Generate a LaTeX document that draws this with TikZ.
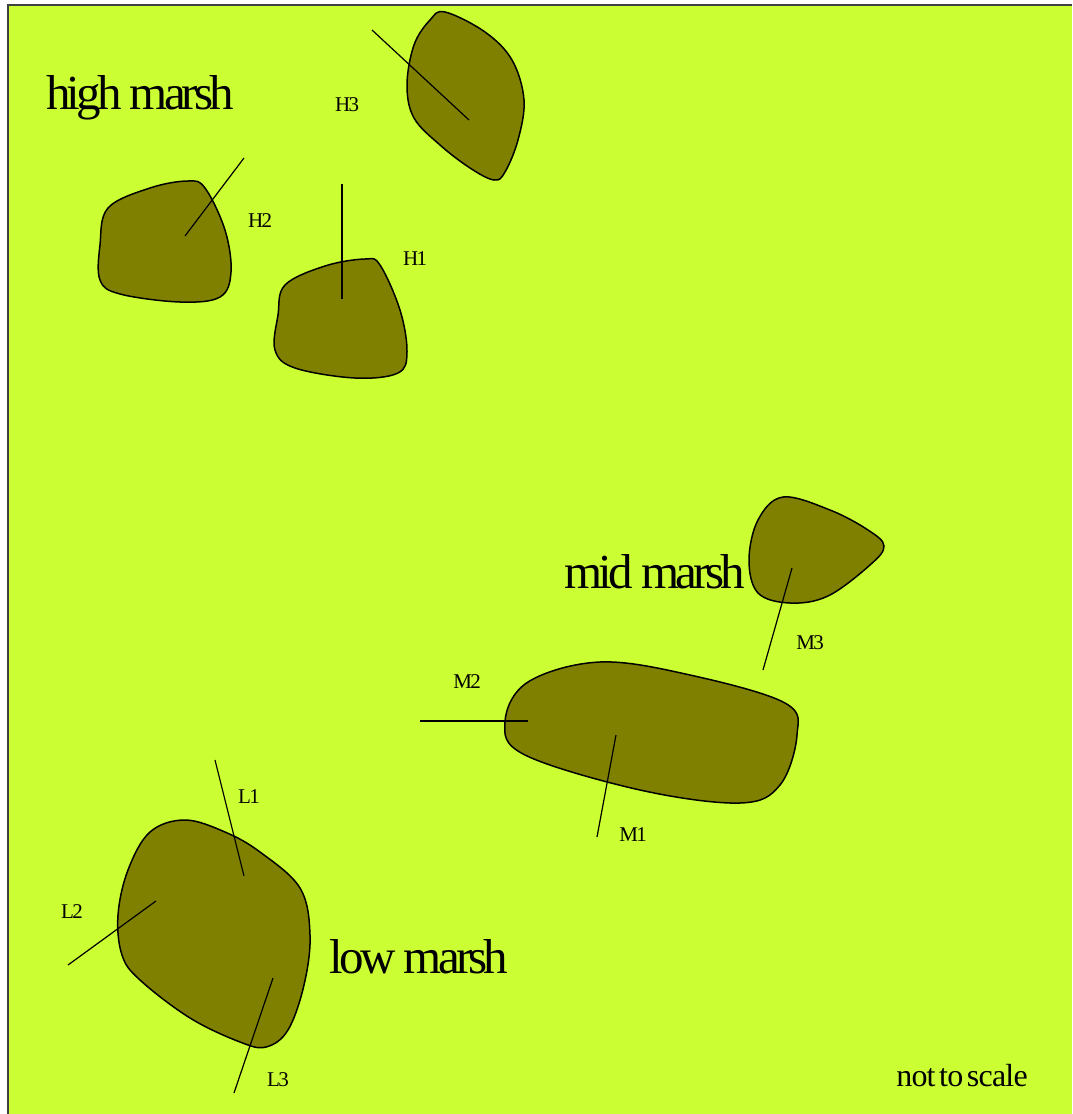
\documentclass[tikz,border=0pt]{standalone}
\usepackage{fontspec}
\setmainfont{Liberation Serif}
\newfontfamily\zonefont{Liberation Serif}[LetterSpace=-8, WordSpace=0.2]
\newfontfamily\tagfont{Liberation Serif}[LetterSpace=-8]
\newfontfamily\notefont{Liberation Serif}[LetterSpace=-2.5, WordSpace=0.5]
\usepackage{tikz}
\usetikzlibrary{positioning}

\definecolor{marshlime}{RGB}{204,255,51}
\definecolor{creekolive}{RGB}{128,128,0}

\begin{document}
\begin{tikzpicture}[
  x=0.5pt, y=-0.5pt,
  blob/.style={draw=black, fill=creekolive, line width=0.75pt},
  transect/.style={draw=black, line width=0.6pt},
  zone/.style={font=\zonefont\fontsize{24.5}{24.5}\selectfont, inner sep=0pt},
  tag/.style={font=\tagfont\fontsize{10.5}{10.5}\selectfont, inner sep=0pt},
  note/.style={font=\notefont\fontsize{16}{16}\selectfont, inner sep=0pt}
]
\useasboundingbox (0,0) rectangle (1072,1114);
\fill[marshlime] (8,5) rectangle (1072,1114);
\draw[line width=1pt, draw=black!75] (8,1114) -- (8,5) -- (1072,5);

% high marsh pools
\draw[blob] plot[smooth cycle, tension=0.6] coordinates {
  (445,12) (485,32) (512,60) (524,100) (518,140) (505,172) (494,180)
  (470,168) (440,145) (414,118) (407,85) (414,45) (430,20)};
\draw[blob] plot[smooth cycle, tension=0.6] coordinates {
  (108,208) (150,188) (188,181) (205,188) (225,230) (231,272)
  (220,297) (180,302) (120,294) (100,280) (100,245)};
\draw[blob] plot[smooth cycle, tension=0.6] coordinates {
  (285,285) (325,266) (365,259) (380,265) (400,310) (407,352)
  (398,373) (355,378) (295,368) (275,350) (278,315)};

% mid marsh pools
\draw[blob] plot[smooth cycle, tension=0.6] coordinates {
  (783,497) (830,510) (868,530) (884,546) (870,565) (828,596)
  (790,603) (758,593) (749,560) (758,520)};
\draw[blob] plot[smooth cycle, tension=0.6] coordinates {
  (505,722) (528,682) (600,662) (690,675) (785,703) (797,735)
  (780,785) (740,803) (640,790) (525,755)};

% low marsh pool
\draw[blob] plot[smooth cycle, tension=0.6] coordinates {
  (185,820) (225,832) (260,852) (300,888) (310,935) (304,985)
  (288,1030) (266,1047) (240,1042) (190,1018) (140,980) (122,955)
  (118,915) (128,870) (150,832)};

% transects
\draw[transect] (372,30) -- (469,120);
\draw[transect] (244,158) -- (185,236);
\draw[transect] (342,184) -- (342,299);
\draw[transect] (792,568) -- (763,670);
\draw[transect] (420,721) -- (528,721);
\draw[transect] (616,735) -- (597,837);
\draw[transect] (215,760) -- (244,876);
\draw[transect] (68,965) -- (156,901);
\draw[transect] (273,978) -- (234,1093);

% transect tags
\node[tag] (tH3) at (347,105) {H3};
\node[tag] (tH2) at (260,221) {H2};
\node[tag] (tH1) at (415,259) {H1};
\node[tag] (tM3) at (810,643) {M3};
\node[tag] (tM2) at (467,682) {M2};
\node[tag] (tM1) at (633,835) {M1};
\node[tag] (tL1) at (249,797) {L1};
\node[tag] (tL2) at (72,912) {L2};
\node[tag] (tL3) at (278,1080) {L3};

% zone names
\node[zone] (high) at (140,98) {high marsh};
\node[zone] (mid) at (655,572) {mid marsh};
\node[zone] (low) at (419,957) {low marsh};
\node[note] (nts) at (962,1076) {not to scale};
\end{tikzpicture}
\end{document}
